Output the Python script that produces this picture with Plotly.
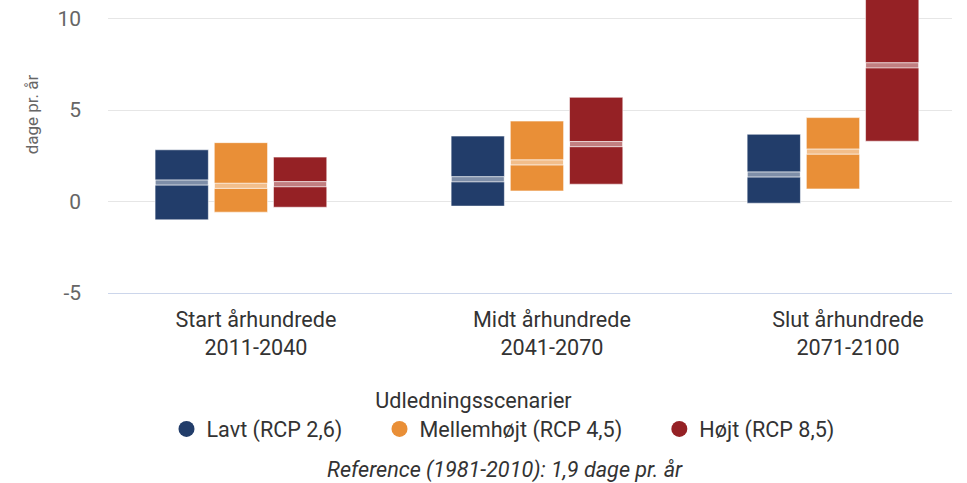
import plotly.graph_objects as go

# ---- data ----
periods = ["Start århundrede", "Midt århundrede", "Slut århundrede"]
years = ["2011-2040", "2041-2070", "2071-2100"]
scenarios = ["Lavt (RCP 2,6)", "Mellemhøjt (RCP 4,5)", "Højt (RCP 8,5)"]
colors = ["#223d6a", "#e98f37", "#952125"]

low_lavt = [-1.0, -0.25, -0.09]
high_lavt = [2.83, 3.58, 3.68]
median_lavt = [1.04, 1.22, 1.48]

low_mellem = [-0.58, 0.58, 0.69]
high_mellem = [3.22, 4.40, 4.59]
median_mellem = [0.86, 2.14, 2.73]

low_hoej = [-0.31, 0.95, 3.30]
high_hoej = [2.43, 5.70, 11.6]
median_hoej = [0.95, 3.14, 7.45]

ytick_vals = [-5, 0, 5, 10]
ytick_text = ["-5", "0", "5", "10"]

y_title = "dage pr. år"
legend_title = "Udledningsscenarier"
caption = "Reference (1981-2010): 1,9 dage pr. år"

# ---- build ----
cats = [f"{p}<br>{y}" for p, y in zip(periods, years)]
lows = [low_lavt, low_mellem, low_hoej]
highs = [high_lavt, high_mellem, high_hoej]
medians = [median_lavt, median_mellem, median_hoej]

FONT = "Roboto"
FS = 21.6
MED_H = 0.28

fig = go.Figure()
for i, name in enumerate(scenarios):
    fig.add_trace(go.Bar(
        x=cats,
        y=[h - l for h, l in zip(highs[i], lows[i])],
        base=lows[i],
        name=name,
        marker=dict(color=colors[i], line=dict(color="rgba(255,255,255,0.55)", width=1)),
        offsetgroup=str(i),
        showlegend=False,
    ))
    fig.add_trace(go.Bar(
        x=cats,
        y=[MED_H] * len(cats),
        base=[m - MED_H / 2 for m in medians[i]],
        name=name + " median",
        marker=dict(color="rgba(255,255,255,0.42)", line=dict(color="rgba(255,255,255,0.75)", width=1)),
        offsetgroup=str(i),
        showlegend=False,
    ))

pads = ["\u00a0" * 6, "\u00a0" * 6, ""]
for i, name in enumerate(scenarios):
    fig.add_trace(go.Scatter(
        x=[None], y=[None], mode="markers", name=name + pads[i],
        marker=dict(symbol="circle", size=16, color=colors[i]),
    ))

fig.update_layout(
    width=967, height=483,
    margin=dict(l=108, r=15, t=0, b=190, autoexpand=False),
    paper_bgcolor="white", plot_bgcolor="white",
    barmode="group", bargap=0.40, bargroupgap=0.10,
    font=dict(family=FONT, size=FS, color="#333333"),
    showlegend=True,
    legend=dict(
        orientation="h", x=0.468, xanchor="center", y=-0.298, yanchor="top",
        title=dict(text=legend_title + "\u00a0" * 11, side="top center",
                   font=dict(family=FONT, size=FS, color="#333333")),
        font=dict(family=FONT, size=FS, color="#333333"),
        itemclick=False,
    ),
    xaxis=dict(
        type="category", range=[-0.449, 2.402],
        showgrid=False, zeroline=False, automargin=False,
        showline=True, linecolor="#ccd6eb", linewidth=1,
        tickfont=dict(family=FONT, size=FS, color="#333333"),
        ticks="", ticklabelstandoff=7, ticklabelshift=15,
    ),
    yaxis=dict(
        range=[-5, 11.02], tickvals=ytick_vals, ticktext=ytick_text, automargin=False,
        showgrid=True, gridcolor="#e6e6e6", gridwidth=1, zeroline=False,
        tickfont=dict(family=FONT, size=21, color="#666666"),
        ticks="", ticklabelstandoff=26,
    ),
    annotations=[
        dict(text=y_title, textangle=-90, xref="paper", yref="paper",
             x=-0.090, y=0.61, xanchor="center", yanchor="middle", showarrow=False,
             font=dict(family=FONT, size=17, color="#666666")),
        dict(text="<i>" + caption + "</i>", xref="paper", yref="paper",
             x=0.470, y=-0.603, xanchor="center", yanchor="middle", showarrow=False,
             font=dict(family=FONT, size=FS, color="#333333")),
    ],
)

fig.write_html("out.html", config={"displayModeBar": False},
               post_script="document.body.style.margin='0';")
